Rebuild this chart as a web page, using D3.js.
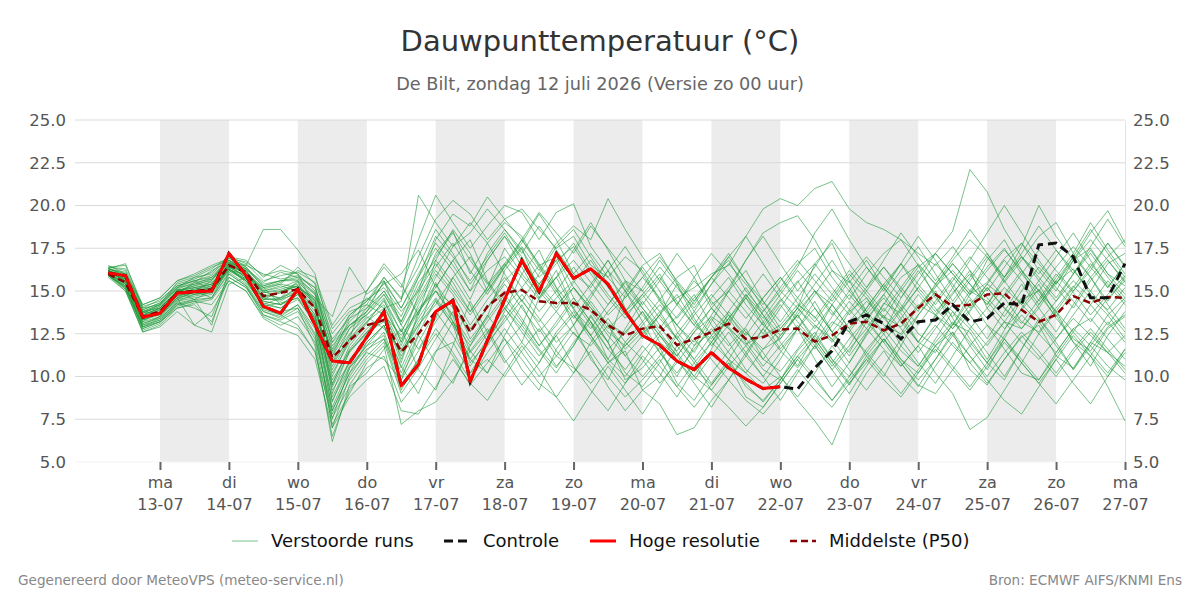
<!DOCTYPE html>
<html><head><meta charset="utf-8">
<script src="https://cdn.jsdelivr.net/npm/d3@7"></script>
<style>body{margin:0;background:#fff}svg{display:block;font-family:"DejaVu Sans",sans-serif}</style>
</head><body>
<svg id="c" width="1200" height="600"></svg>
<script>
// ---------- data ----------
const dayNames = ["ma","di","wo","do","vr","za","zo","ma","di","wo","do","vr","za","zo","ma"];
const dateLabels = ["13-07","14-07","15-07","16-07","17-07","18-07","19-07","20-07","21-07","22-07","23-07","24-07","25-07","26-07","27-07"];
const yTicks = [5,7.5,10,12.5,15,17.5,20,22.5,25];
const firstTime = Date.UTC(2026,6,12,6); // first forecast step, 6-hourly
const stepHours = 6;

const hires = [16.05,15.9,13.46,13.7,14.87,14.95,15.0,17.2,15.9,14.1,
  13.7,15.1,13.0,10.9,10.8,12.3,13.8,9.45,10.7,13.8,
  14.45,9.7,12.1,14.5,16.8,14.96,17.2,15.74,16.3,15.4,
  13.8,12.4,11.84,10.9,10.4,11.4,10.5,9.85,9.3,9.4];

const controle = [16.05,15.9,13.46,13.7,14.87,14.95,15.0,17.2,15.9,14.1,
  13.7,15.1,13.0,10.9,10.8,12.3,13.8,9.45,10.7,13.8,
  14.45,9.7,12.1,14.5,16.8,14.96,17.2,15.74,16.3,15.4,
  13.8,12.4,11.84,10.9,10.4,11.4,10.5,9.85,9.3,9.4,
  9.27,10.5,11.5,13.2,13.6,13.1,12.2,13.2,13.3,14.2,
  13.2,13.4,14.3,14.2,17.7,17.8,17.0,14.6,14.6,16.6];

const p50 = [16.0,15.5,13.5,13.8,14.9,15.0,15.1,16.5,16.1,14.7,
  14.9,15.1,14.0,11.1,12.1,13.0,13.3,11.45,12.5,13.8,
  14.4,12.6,14.1,14.9,15.06,14.4,14.3,14.3,13.9,13.0,
  12.4,12.8,12.95,11.84,12.2,12.6,13.1,12.2,12.3,12.75,
  12.8,12.04,12.4,13.1,13.2,12.7,13.1,14.0,14.8,14.1,
  14.2,14.8,14.87,13.9,13.2,13.6,14.7,14.3,14.65,14.6];

const members = [
 [16.2,15.8,13.4,13.7,14.6,15.2,15.4,16.8,16.2,14.5, 15.0,15.3,14.2,9.5,11.8,13.1,14.5,12.0,14.8,17.2, 18.5,16.0,17.8,19.0,18.2,16.5,17.0,15.2,14.0,13.1, 12.5,13.8,12.0,11.2,12.6,13.5,12.8,11.9,12.4,13.0, 14.2,13.5,12.1,13.8,14.6,13.0,12.5,14.1,15.3,16.2, 15.0,14.4,13.2,12.8,14.0,15.5,16.3,14.8,13.9,15.2],
 [16.0,15.4,13.0,13.5,15.1,14.8,14.9,16.4,15.8,15.2, 14.2,14.6,13.5,8.0,10.2,12.0,13.0,10.5,12.8,15.5, 13.2,11.0,12.5,14.0,12.8,11.5,10.2,11.8,13.5,12.0, 9.8,10.5,11.7,9.6,8.6,10.2,11.5,12.8,11.0,10.3, 11.6,13.0,12.2,10.8,12.5,14.3,13.7,12.0,11.4,13.1, 12.6,11.0,12.7,14.5,15.0,13.4,12.2,11.5,12.9,13.6],
 [16.4,16.2,14.0,14.2,15.5,15.8,16.0,16.9,16.5,16.0, 15.7,15.9,15.2,12.5,13.8,14.2,15.8,14.5,17.0,19.2, 20.3,19.5,18.0,19.2,19.8,18.6,17.5,18.2,16.5,15.8, 17.0,16.2,14.5,15.8,16.5,14.2,15.0,16.8,18.4,19.0, 19.4,18.0,16.2,15.5,16.8,15.2,14.0,15.6,17.2,16.0, 14.8,15.5,16.9,17.8,16.2,15.0,16.8,17.5,16.0,15.3],
 [15.9,15.2,12.8,13.2,14.3,14.0,13.5,16.0,15.3,13.6, 13.2,12.8,11.5,6.5,9.2,10.5,11.2,8.5,9.8,11.5, 12.0,10.2,11.0,10.0,11.5,12.8,11.2,10.5,9.6,10.8, 11.5,9.2,10.0,11.8,10.5,9.5,10.8,8.8,8.2,9.6, 11.0,12.2,10.8,9.5,11.2,12.5,11.0,10.2,11.8,12.6, 10.4,9.5,11.0,12.3,13.0,11.2,10.5,12.0,11.4,10.6],
 [16.3,16.6,14.0,14.5,15.3,15.6,15.0,16.6,16.3,15.5, 16.1,15.8,14.8,11.8,13.0,13.6,14.8,13.2,15.5,16.8, 15.5,13.8,15.2,17.5,16.0,14.8,15.8,13.9,12.8,14.2, 15.5,14.0,12.6,13.5,14.8,13.0,11.8,12.9,14.6,15.8, 14.3,13.2,14.6,16.0,14.8,13.5,12.9,14.2,13.6,12.8, 13.9,15.2,14.0,13.1,14.5,16.0,14.9,13.6,14.8,15.9],
 [16.1,15.7,13.2,13.8,14.8,15.5,16.2,16.7,15.9,14.2, 14.6,15.6,13.0,7.0,10.0,11.5,12.6,9.8,11.5,13.2, 14.6,12.2,13.5,16.2,17.5,15.0,13.8,12.5,11.8,13.0, 11.2,10.0,11.2,12.5,13.8,12.4,11.0,10.2,11.6,12.2, 13.6,12.0,10.6,11.8,13.4,14.6,13.2,12.0,13.5,14.8, 16.2,14.0,12.8,13.9,15.1,13.8,12.6,14.2,15.6,14.4],
 [16.2,15.5,13.6,14.0,15.0,14.5,13.0,16.2,16.0,15.0, 14.5,15.2,14.5,9.0,11.5,12.5,13.9,11.0,13.6,16.8, 18.6,17.2,15.0,16.5,17.8,19.5,18.0,16.0,15.2,16.8, 15.0,13.2,14.5,13.0,12.0,13.6,15.0,13.8,12.5,14.0, 15.5,16.6,15.2,13.9,12.8,14.2,15.8,16.5,14.6,13.5, 15.0,16.4,17.5,16.0,14.8,13.5,15.0,16.2,17.8,16.5],
 [16.0,15.9,13.8,13.6,14.5,15.0,15.6,17.0,16.8,15.8, 16.5,16.0,14.0,10.0,12.2,13.2,14.0,12.2,14.0,15.0, 13.5,10.8,12.0,13.2,14.5,13.0,11.5,10.2,12.0,13.4, 12.0,11.0,9.6,10.8,12.2,11.0,9.8,11.2,12.8,11.5, 10.5,11.8,13.2,12.6,11.4,12.8,14.0,12.5,11.8,13.0, 14.5,13.0,12.2,10.8,12.5,13.8,12.0,11.2,12.8,13.5],
 [16.5,16.0,14.2,14.6,15.6,15.9,16.4,16.8,16.0,15.2, 15.5,16.2,15.8,13.0,14.5,15.0,16.4,15.2,18.0,20.6, 19.0,17.5,18.8,20.0,19.6,18.0,19.6,20.1,17.6,16.2, 15.0,16.5,17.2,15.5,14.2,15.8,16.8,15.0,13.8,15.2, 16.6,17.5,15.8,14.5,16.0,17.2,18.0,16.5,15.4,16.8, 18.0,17.0,15.5,16.8,18.2,19.0,17.2,15.8,17.0,18.0],
 [16.2,15.6,13.8,14.2,15.2,15.4,15.8,16.6,16.5,18.6, 18.6,17.4,16.0,12.0,13.0,13.8,15.0,13.5,15.8,17.5, 16.2,14.5,16.8,18.2,17.0,15.2,14.0,15.5,16.8,15.2, 13.8,12.5,13.6,14.8,13.2,12.0,13.4,14.6,13.0,12.2, 13.8,15.0,14.2,12.8,14.0,15.4,16.6,15.0,13.8,14.9, 16.0,14.6,13.5,15.0,16.4,15.2,14.0,15.6,16.8,15.5],
 [16.0,15.3,13.1,13.4,14.4,14.6,14.8,16.2,15.6,14.0, 13.8,14.0,11.8,6.2,9.5,11.0,12.0,9.0,10.5,12.2, 13.8,11.5,10.2,11.8,13.0,11.6,10.5,12.0,13.2,11.0, 10.0,11.4,12.6,11.2,10.0,9.2,10.6,11.8,10.4,9.8, 11.2,12.4,11.0,10.0,11.6,12.8,11.5,10.6,12.0,13.2, 12.0,10.8,12.4,13.6,12.5,11.4,12.8,13.4,12.2,11.0],
 [16.3,15.9,13.5,14.0,15.0,15.3,15.5,16.3,15.7,14.6, 14.9,15.5,14.6,11.0,12.5,13.5,12.8,11.5,13.0,14.2, 15.8,17.0,15.5,14.0,15.2,16.5,15.0,13.6,12.4,13.8, 15.0,13.6,12.4,11.5,12.8,14.0,12.9,11.8,13.2,14.5, 13.2,12.0,13.5,14.8,13.6,12.5,13.9,15.2,14.0,12.8, 14.2,15.4,14.6,13.2,12.6,14.0,15.3,14.2,13.0,14.4],
 [16.1,15.6,13.3,13.9,14.7,15.1,15.4,16.5,15.8,14.3, 14.0,14.8,13.3,8.5,11.0,12.2,13.6,10.8,13.8,15.2, 16.8,15.0,17.2,18.6,17.4,15.8,16.8,17.6,16.0,14.6, 13.4,14.8,16.0,14.2,13.0,14.6,15.8,14.2,13.0,14.4, 15.6,14.0,12.6,13.9,15.2,16.4,15.0,13.8,15.4,16.6, 15.4,14.2,15.8,17.0,15.6,14.4,16.0,17.2,15.8,14.6],
 [15.9,15.1,12.6,13.0,14.0,14.3,14.5,15.8,15.2,13.8, 13.5,14.2,12.5,7.5,10.5,11.8,12.4,9.5,11.0,12.5, 11.2,9.5,10.8,12.2,11.0,9.6,8.8,10.2,11.5,10.0, 8.8,9.8,11.0,9.4,8.2,9.5,10.8,9.6,8.5,9.8, 11.2,10.0,8.6,9.8,11.0,12.2,11.0,9.8,11.0,12.4, 11.2,10.0,11.4,12.6,11.5,10.2,11.6,12.8,11.6,10.4],
 [16.2,15.8,13.7,14.1,14.9,15.0,15.1,16.4,16.1,15.0, 15.3,15.0,14.0,10.8,12.8,14.0,15.5,14.0,16.0,17.8, 16.5,15.0,16.2,17.0,15.8,14.5,15.8,16.8,15.5,14.2, 15.6,15.0,13.8,14.6,15.2,16.0,16.5,18.2,19.8,20.4, 20.0,21.0,21.4,19.8,19.0,18.6,18.0,17.2,16.5,17.6, 16.2,15.0,16.4,17.8,16.6,15.4,16.8,18.0,16.8,15.6],
 [16.0,15.5,13.4,13.7,14.6,14.9,15.3,16.6,16.0,14.6, 14.4,15.0,13.6,9.8,11.5,12.6,13.8,11.8,14.2,16.0, 14.8,13.0,14.5,15.8,14.4,13.2,14.6,15.6,14.2,12.8, 13.8,14.8,13.4,12.2,13.6,14.8,13.6,12.4,13.8,15.0, 14.0,12.8,14.2,15.6,14.6,13.4,15.0,16.4,17.2,18.5, 22.1,20.8,18.6,17.0,16.0,17.4,16.2,15.0,16.6,17.2],
 [16.1,15.4,13.2,13.5,14.5,14.7,14.9,16.3,15.5,14.2, 14.0,14.5,13.2,8.8,10.8,12.0,13.0,10.2,12.5,14.5, 13.0,11.4,12.6,14.0,12.6,11.2,12.4,13.6,12.2,10.8, 11.8,12.8,11.4,10.2,11.6,12.8,11.4,10.2,9.2,10.0, 8.6,7.4,6.0,8.5,10.2,11.5,10.0,9.0,10.6,12.0, 10.8,9.6,11.0,12.4,11.2,10.0,11.4,12.6,11.4,10.2],
 [16.4,16.3,14.1,14.4,15.4,15.7,16.1,17.0,16.6,15.6, 15.9,16.1,15.5,12.8,14.0,14.5,15.2,13.8,15.0,18.0, 19.5,18.8,20.5,19.2,18.0,19.6,18.4,17.2,18.8,17.5, 16.2,15.0,16.4,15.2,14.0,15.4,16.6,15.4,14.2,15.6, 16.8,15.6,14.4,15.8,17.0,15.8,14.6,16.0,17.2,16.0, 14.8,16.2,17.4,16.2,15.0,16.4,17.6,16.4,15.2,16.6],
 [15.8,15.0,12.7,13.1,14.2,14.4,14.2,15.6,15.0,13.5, 13.0,13.5,12.0,7.2,9.0,10.8,11.8,7.2,8.0,8.5, 9.8,11.5,12.8,11.0,9.5,10.8,12.4,10.6,9.2,8.0, 9.6,11.2,10.2,8.8,10.5,12.0,11.0,9.4,8.6,9.8, 11.5,12.6,11.0,9.6,10.8,12.2,10.8,9.5,9.0,10.4, 11.8,13.0,11.6,10.2,9.8,11.4,12.8,11.8,10.6,9.8],
 [16.2,15.7,13.5,13.9,15.0,15.2,15.0,16.5,16.2,14.9, 15.1,15.4,14.3,11.5,13.2,14.2,13.6,12.4,13.8,15.0, 14.2,12.8,14.0,15.6,16.6,15.4,14.2,15.2,14.0,12.6, 11.8,13.0,14.2,13.0,11.8,12.6,13.8,12.6,11.6,12.8, 14.0,13.0,12.0,13.2,14.4,13.4,12.4,13.6,14.8,13.8, 12.8,14.0,15.2,14.2,13.2,14.4,15.6,14.6,13.6,14.6],
 [16.0,15.2,13.0,13.3,14.2,14.5,14.6,16.1,15.4,13.9, 13.6,14.2,12.8,8.2,10.5,11.6,12.2,10.0,12.0,13.8, 12.4,10.6,12.2,13.6,12.0,10.8,12.6,13.8,12.4,10.8, 9.6,10.8,12.4,11.0,9.8,11.2,12.6,11.2,10.0,11.4, 12.8,14.0,12.6,11.2,12.6,14.0,12.8,11.4,12.8,14.2, 13.0,11.8,13.2,14.6,13.4,12.2,13.6,15.0,13.8,12.6],
 [16.3,16.0,13.9,14.3,15.2,15.6,15.8,16.8,16.4,15.4, 15.6,15.7,14.9,12.2,13.4,14.0,15.0,13.2,15.2,17.0, 18.4,16.8,15.4,16.6,18.0,16.6,15.2,14.0,15.4,16.8, 15.2,14.0,12.8,14.2,15.6,14.4,13.2,14.6,16.0,14.6, 13.4,14.8,16.2,15.0,13.8,15.2,16.6,15.4,14.2,15.6, 17.0,15.8,14.6,16.0,17.4,16.2,15.0,16.4,17.8,16.4],
 [15.9,15.3,12.9,13.3,14.4,14.8,15.2,16.3,15.6,14.4, 14.2,14.9,13.4,9.2,10.8,12.4,13.4,11.2,13.0,14.4, 13.0,10.2,11.8,13.4,14.8,13.4,12.0,13.0,14.4,13.0, 11.6,12.6,13.8,12.2,10.8,12.0,13.4,12.0,10.6,11.8, 13.0,11.8,10.4,11.6,12.8,11.6,10.6,11.8,13.0,11.8, 10.8,12.0,13.2,12.0,11.0,12.2,13.4,12.4,11.4,12.4],
 [16.2,15.8,13.8,14.0,15.0,15.4,15.6,16.7,16.2,15.1, 15.4,15.2,14.6,13.5,16.4,14.8,15.6,14.0,15.8,18.2, 17.0,15.6,17.0,18.4,16.8,15.4,16.6,17.8,16.2,14.8, 13.6,14.6,15.8,14.4,13.0,12.2,13.4,14.8,13.6,12.4, 13.6,15.0,13.8,12.6,14.0,15.4,14.2,13.0,14.4,15.8, 14.6,13.4,14.8,16.2,15.0,13.8,15.2,16.6,15.4,14.2],
 [16.1,15.7,13.6,14.0,15.0,15.3,15.7,16.7,16.3,15.3, 15.6,15.6,14.8,11.2,13.4,14.6,14.0,14.4,20.6,19.0, 17.6,18.4,19.8,18.6,17.2,18.8,17.4,16.0,17.2,15.8, 14.6,15.8,17.0,15.6,14.4,15.8,17.0,15.6,14.4,13.2, 14.6,16.0,14.8,13.6,15.0,16.4,15.2,14.0,15.2,16.6, 15.4,14.2,15.6,17.0,15.8,14.6,16.0,17.4,16.0,14.8],
 [16.3,15.9,13.7,14.1,15.1,15.0,14.6,16.4,15.9,14.7, 14.9,15.3,14.2,10.2,12.0,13.2,14.4,12.6,14.4,16.2, 15.0,13.6,15.0,16.4,17.6,16.2,17.8,18.8,18.0,20.4, 18.6,17.0,15.6,14.2,15.8,17.2,16.0,14.6,13.4,14.8, 16.2,15.0,13.6,15.0,16.4,15.2,13.8,15.2,16.6,15.4, 14.0,15.4,16.8,15.6,14.2,15.6,17.0,15.8,14.4,15.8],
 [15.9,15.2,12.9,13.2,14.1,14.4,14.6,16.0,15.3,13.8, 13.4,14.0,12.4,7.8,9.8,11.2,12.2,9.2,11.0,12.8, 11.4,9.8,11.4,12.8,11.4,10.0,11.2,12.6,11.2,9.4, 8.0,9.2,8.4,6.6,7.0,8.6,9.8,8.6,7.8,9.0, 10.4,9.2,8.2,9.6,11.0,9.8,8.8,10.2,11.6,10.4, 9.2,10.6,12.0,10.8,9.6,11.0,12.4,11.2,10.0,11.4],
 [16.0,15.5,13.3,13.6,14.6,14.8,15.0,16.2,15.6,14.4, 14.2,14.8,13.4,9.4,11.4,12.6,13.2,11.4,13.2,14.6, 13.2,11.8,13.2,14.6,13.2,11.8,13.0,14.4,13.0,11.6, 10.4,11.8,10.6,9.4,10.8,9.2,8.2,7.1,8.2,9.6, 11.0,9.8,8.6,10.0,11.4,10.2,9.0,10.4,11.8,10.6, 9.4,10.8,12.2,11.0,9.8,11.2,12.6,11.4,10.2,11.6],
 [16.1,15.6,13.4,13.8,14.8,15.0,15.2,16.4,15.8,14.5, 14.6,15.0,13.8,10.4,12.2,13.4,14.2,12.0,13.8,15.4, 14.0,12.6,14.0,15.4,14.0,12.6,13.8,15.2,13.8,12.4, 11.2,12.4,13.6,12.2,11.0,12.4,13.6,12.2,11.0,12.4, 13.6,12.2,10.8,12.2,13.4,12.0,10.6,11.8,10.2,9.0, 6.9,7.6,9.2,10.8,9.6,8.4,9.8,11.2,9.4,7.4],
 [16.2,15.9,13.7,14.2,15.1,15.5,15.7,16.6,16.1,15.0, 15.2,15.6,14.4,11.4,13.0,13.8,14.8,13.0,15.0,16.6, 15.2,13.8,15.2,16.6,15.2,13.8,15.0,16.4,15.0,13.6, 14.6,15.8,14.6,13.4,14.6,15.8,14.6,13.4,14.6,15.8, 14.6,13.4,14.8,16.2,15.0,13.8,15.2,16.6,15.4,14.2, 15.6,17.0,15.8,17.6,20.0,18.2,16.8,18.4,19.7,17.8],
 [16.4,16.5,14.2,14.6,15.6,16.0,16.5,16.9,16.7,15.9, 16.2,16.0,15.0,11.6,13.6,14.4,15.4,16.0,17.4,15.2, 16.8,18.0,15.6,14.2,13.0,15.4,16.8,14.6,13.2,12.0, 14.8,16.4,15.0,12.6,11.4,13.2,15.0,16.2,14.4,12.8, 14.0,16.6,17.8,15.6,13.8,12.6,14.6,16.2,14.8,13.0, 14.8,16.8,18.0,16.2,14.4,15.8,17.2,19.0,17.4,16.0],
 [15.9,15.3,12.8,13.2,14.0,14.2,13.2,15.8,15.2,13.6, 13.3,13.8,12.2,8.0,10.2,11.4,11.0,9.8,12.4,10.8, 9.6,11.8,13.6,12.2,10.4,9.2,11.6,13.0,11.0,9.8, 12.0,13.2,11.4,10.0,11.8,13.4,12.0,10.4,9.6,11.0, 12.8,11.0,9.4,10.8,12.4,13.6,11.8,10.6,12.2,13.8, 12.2,10.8,9.8,11.6,13.4,12.0,10.4,11.8,13.2,12.0],
 [16.2,15.6,13.5,13.9,14.9,15.1,15.3,16.5,16.0,14.8, 14.6,15.2,14.0,10.6,12.4,13.8,15.6,13.0,11.6,13.4, 15.8,14.2,12.0,13.8,16.0,17.4,15.2,13.0,14.6,16.2, 14.0,12.2,13.6,15.4,13.4,11.8,13.0,14.8,13.2,11.6, 12.8,14.4,12.6,11.4,13.2,14.8,13.4,12.0,13.6,15.2, 13.6,12.2,13.8,15.4,14.0,12.6,14.2,15.8,14.2,12.8],
 [16.0,15.1,12.9,13.4,14.3,14.5,15.0,16.3,15.6,14.1, 14.3,14.6,13.0,8.6,10.6,11.8,13.0,10.6,9.0,11.4, 13.2,11.0,10.2,12.4,14.2,12.2,10.6,11.8,13.6,12.0, 10.2,9.4,10.8,12.4,11.0,9.6,11.0,12.6,11.4,10.0, 8.8,10.2,11.8,10.4,9.2,10.6,12.2,10.8,9.6,11.2, 12.8,11.4,10.0,11.6,13.2,11.8,10.4,12.0,13.6,12.2],
 [16.3,16.1,13.9,14.3,15.3,15.6,15.9,16.8,16.3,15.3, 15.6,15.8,15.2,12.0,13.6,14.4,15.8,14.6,16.4,18.6, 17.2,15.4,16.8,18.2,16.4,14.6,15.8,17.4,19.0,17.4, 15.6,14.2,15.6,17.2,15.8,14.0,15.2,16.8,18.2,16.6, 15.0,16.4,18.0,16.6,15.2,16.8,18.4,17.0,15.6,17.0, 18.6,17.2,15.8,17.2,18.8,17.4,16.0,17.6,19.2,17.6],
 [16.1,15.6,13.3,13.7,14.7,14.9,15.1,16.3,15.7,14.5, 14.5,14.9,13.6,9.6,11.6,12.8,13.6,11.6,13.4,15.0, 13.6,12.0,13.4,14.8,13.4,11.8,13.2,14.6,13.2,11.6, 12.6,13.8,12.4,11.2,12.6,14.0,12.8,11.4,12.8,14.2, 12.8,11.6,13.0,14.4,13.2,12.0,13.4,14.8,13.6,12.4, 13.8,15.2,14.0,12.8,14.2,15.6,14.4,13.2,14.6,15.6],
 [16.0,15.4,13.1,13.5,14.6,13.0,12.6,15.4,15.8,14.0, 13.6,13.0,11.4,7.6,9.4,10.2,11.6,12.8,10.4,9.2, 11.8,14.4,12.6,10.8,12.0,14.6,16.2,14.0,12.4,11.0, 12.8,14.4,13.0,11.4,10.0,11.6,13.8,15.2,13.6,12.0, 10.6,12.4,14.2,12.8,11.2,10.0,11.8,13.6,15.0,13.4, 11.8,10.4,12.2,14.0,15.4,13.6,12.0,10.6,12.4,13.8],
 [16.3,16.0,13.8,14.2,15.2,15.8,16.3,17.0,16.4,15.2, 15.4,16.4,15.4,10.8,12.2,15.0,16.6,15.4,13.6,15.8, 17.6,19.0,17.8,16.0,14.4,16.0,17.6,18.6,17.0,15.4, 13.8,15.2,16.8,15.4,13.8,15.4,17.0,18.2,16.6,15.0, 16.4,18.4,19.8,18.0,16.4,15.0,16.6,18.2,16.8,15.2, 16.8,18.4,20.0,18.4,16.8,15.4,17.0,18.6,17.2,15.8],
 [15.9,15.0,12.6,12.9,13.8,13.0,13.8,15.6,15.0,13.4, 12.8,12.4,11.0,7.0,8.8,9.8,10.6,8.0,7.8,9.4, 11.0,9.6,8.6,10.2,11.8,10.4,8.8,7.4,9.0,10.6, 9.2,7.8,9.4,11.0,9.6,8.2,9.8,11.4,10.0,8.6, 10.2,11.8,10.4,9.0,10.6,12.2,10.8,9.4,11.0,12.6, 11.2,9.8,8.6,7.8,9.4,11.0,9.6,8.4,10.0,11.6],
 [16.2,15.7,13.6,14.0,15.0,15.2,15.4,16.6,16.0,14.9, 15.0,15.3,14.4,11.2,12.8,13.6,14.6,12.6,14.6,16.4, 17.8,16.2,14.8,16.4,18.0,16.4,14.8,13.4,14.8,16.2, 17.6,16.0,14.4,13.0,14.4,15.8,17.2,15.6,14.0,12.6, 14.0,15.4,16.8,15.2,13.6,14.8,16.2,17.6,16.0,14.4, 15.8,17.2,15.6,14.2,15.6,17.0,18.4,16.8,15.2,16.6]
];

const legendItems = ["Verstoorde runs","Controle","Hoge resolutie","Middelste (P50)"];
const titleText = "Dauwpunttemperatuur (°C)";
const subtitleText = "De Bilt, zondag 12 juli 2026 (Versie zo 00 uur)";
const footLeft = "Gegenereerd door MeteoVPS (meteo-service.nl)";
const footRight = "Bron: ECMWF AIFS/KNMI Ens";

// ---------- chart ----------
const L=75, R=1125, T=120, B=462;
const svg = d3.select("#c");
const days = dateLabels.map((d,k)=>new Date(Date.UTC(2026,6,13+k)));
const x = d3.scaleUtc().domain([new Date(Date.UTC(2026,6,11,18,25)), days[days.length-1]]).range([L,R]);
const y = d3.scaleLinear().domain([5,25]).range([B,T]);
const tAt = i => new Date(firstTime + i*stepHours*3600e3);

svg.append("clipPath").attr("id","clip").append("rect").attr("x",L).attr("y",T-5).attr("width",R-L+1).attr("height",B-T+10);

// shaded alternate days
const bands = days.slice(0,-1).filter((d,k)=>k%2===0);
svg.append("g").selectAll("rect").data(bands).join("rect")
  .attr("x",d=>x(d)).attr("width",d=>x(d3.utcDay.offset(d,1))-x(d))
  .attr("y",T).attr("height",B-T).attr("fill","#ececec");

// gridlines
svg.append("g").selectAll("line").data(yTicks).join("line")
  .attr("x1",L).attr("x2",R).attr("y1",d=>y(d)).attr("y2",d=>y(d))
  .attr("stroke",d=>d===5?"#f3f3f3":"#dadada").attr("stroke-width",1);

// axes
const fmt = d3.format(".1f");
const ga = svg.append("g").attr("transform",`translate(${L},0)`)
  .call(d3.axisLeft(y).tickValues(yTicks).tickFormat(fmt).tickSize(0).tickPadding(9));
ga.select(".domain").remove();
const gr = svg.append("g").attr("transform",`translate(${R},0)`)
  .call(d3.axisRight(y).tickValues(yTicks).tickFormat(fmt).tickSize(0).tickPadding(8));
gr.select(".domain").attr("stroke","#e2e2e2");
[ga,gr].forEach(g=>g.selectAll("text").attr("font-size",16.5).attr("fill","#555").attr("font-family","DejaVu Sans"));

const gx = svg.append("g").attr("transform",`translate(0,${B})`)
  .call(d3.axisBottom(x).tickValues(days).tickSize(8).tickFormat(""));
gx.select(".domain").remove();
gx.selectAll(".tick line").attr("stroke","#666").attr("stroke-width",2);
gx.selectAll(".tick text").remove();
gx.selectAll(".tick").each(function(d,k){
  const g=d3.select(this);
  g.append("text").attr("x",0).attr("y",26).attr("text-anchor","middle").attr("font-size",16).attr("fill","#555").attr("font-family","DejaVu Sans").text(dayNames[k]);
  g.append("text").attr("x",0).attr("y",48).attr("text-anchor","middle").attr("font-size",16).attr("fill","#555").attr("font-family","DejaVu Sans").text(dateLabels[k]);
});

// lines
const plot = svg.append("g").attr("clip-path","url(#clip)");
const line = d3.line().x((d,i)=>x(tAt(i))).y(d=>y(d));
plot.append("g").selectAll("path").data(members).join("path")
  .attr("d",line).attr("fill","none").attr("stroke","#1f9a3a").attr("stroke-opacity",0.6).attr("stroke-width",1);
plot.append("path").attr("d",line(p50)).attr("fill","none").attr("stroke","#8b0000").attr("stroke-width",2.5).attr("stroke-dasharray","7,4");
plot.append("path").attr("d",line(controle)).attr("fill","none").attr("stroke","#111").attr("stroke-width",3).attr("stroke-dasharray","9,5");
plot.append("path").attr("d",line(hires)).attr("fill","none").attr("stroke","#ff0000").attr("stroke-width",3).attr("stroke-linejoin","round");

// title
svg.append("text").attr("x",600).attr("y",51).attr("text-anchor","middle").attr("font-size",29).attr("fill","#333").text(titleText);
svg.append("text").attr("x",600).attr("y",90).attr("text-anchor","middle").attr("font-size",17.7).attr("fill","#666").text(subtitleText);

// legend
const legX=[232,444,590,790], legY=541;
const legStyle=[
  {stroke:"#1f9a3a",op:0.6,w:1,dash:null},
  {stroke:"#111",op:1,w:3,dash:"9,5"},
  {stroke:"#ff0000",op:1,w:3,dash:null},
  {stroke:"#8b0000",op:1,w:2.5,dash:"7,4"}];
const lg = svg.append("g").selectAll("g").data(legendItems).join("g").attr("transform",(d,i)=>`translate(${legX[i]},${legY})`);
lg.append("line").attr("x1",0).attr("x2",26).attr("y1",0).attr("y2",0)
  .attr("stroke",(d,i)=>legStyle[i].stroke).attr("stroke-opacity",(d,i)=>legStyle[i].op)
  .attr("stroke-width",(d,i)=>legStyle[i].w).attr("stroke-dasharray",(d,i)=>legStyle[i].dash);
lg.append("text").attr("x",39).attr("y",0).attr("dy","0.35em").attr("font-size",18).attr("fill","#111").text(d=>d);

// footer
svg.append("text").attr("x",18).attr("y",585).attr("font-size",13.6).attr("fill","#888").text(footLeft);
svg.append("text").attr("x",1182).attr("y",585).attr("text-anchor","end").attr("font-size",13.6).attr("fill","#888").text(footRight);
</script>
</body></html>
